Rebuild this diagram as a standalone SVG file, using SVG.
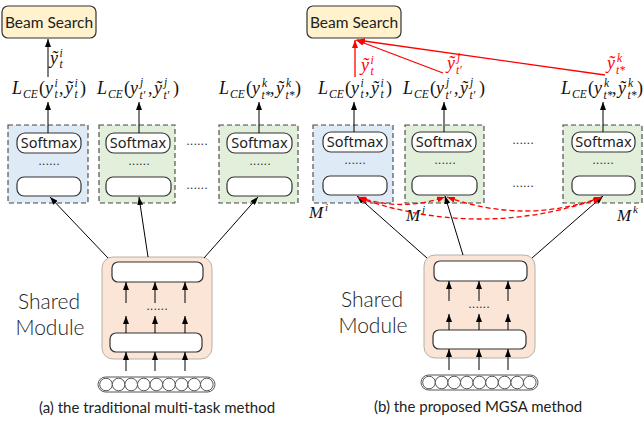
<svg xmlns="http://www.w3.org/2000/svg" width="644" height="421" viewBox="0 0 644 421">
<style>
.bs{fill:#fff2cc;stroke:#333;stroke-width:1.2}
.bst{font-family:Lato,"Liberation Sans",sans-serif;font-size:15.5px;fill:#222;text-anchor:middle}
.tb{stroke:#444;stroke-width:1.1;stroke-dasharray:5,3}
.blue{fill:#deebf7}
.green{fill:#e2efda}
.pill{fill:#fff;stroke:#333;stroke-width:1.2}
.sm{font-family:"Noto Sans","Liberation Sans",sans-serif;font-size:14.5px;fill:#222;text-anchor:middle}
.dots{font-family:"Liberation Sans",sans-serif;font-size:13px;fill:#333;text-anchor:middle}
.mod{fill:#fbe5d6;stroke:#b8b0a8;stroke-width:1}
.big{font-family:Lato,"Liberation Sans",sans-serif;font-weight:300;font-size:21px;fill:#222;text-anchor:middle}
.cap{font-family:Lato,"Liberation Sans",sans-serif;font-size:15px;fill:#222;text-anchor:middle}
.m{font-family:"Liberation Serif",serif;font-style:italic;font-size:18px;fill:#111}
.mu{font-family:"Liberation Serif",serif;font-size:18px;fill:#111}
.s{font-family:"Liberation Serif",serif;font-style:italic;font-size:11.5px;fill:#111}
.r{fill:#f00}
.ln{stroke:#000;stroke-width:1;fill:none}
.rl{stroke:#f00;stroke-width:1.3;fill:none}
.rd{stroke:#f00;stroke-width:1.3;fill:none;stroke-dasharray:5,3}
.ML{font-family:"Liberation Serif",serif;font-style:italic;font-size:17px;fill:#111}
.MS{font-family:"Liberation Serif",serif;font-style:italic;font-size:11px;fill:#111}
</style>
<defs>
<marker id="ah" viewBox="0 0 8 6" refX="8" refY="3" markerWidth="8" markerHeight="6" markerUnits="userSpaceOnUse" orient="auto"><path d="M0,0L8,3L0,6z" fill="#000"/></marker>
<marker id="rh" viewBox="0 0 8 6" refX="8" refY="3" markerWidth="8" markerHeight="6" markerUnits="userSpaceOnUse" orient="auto-start-reverse"><path d="M0,0L8,3L0,6z" fill="#f00"/></marker>
<g id="inp">
<rect x="0" y="0" width="117" height="15" rx="7.5" fill="#fff" stroke="#555" stroke-width="1"/>
<circle cx="8" cy="7.5" r="6.3" fill="#fff" stroke="#555"/>
<circle cx="20.6" cy="7.5" r="6.3" fill="#fff" stroke="#555"/>
<circle cx="33.2" cy="7.5" r="6.3" fill="#fff" stroke="#555"/>
<circle cx="45.8" cy="7.5" r="6.3" fill="#fff" stroke="#555"/>
<circle cx="58.4" cy="7.5" r="6.3" fill="#fff" stroke="#555"/>
<circle cx="71" cy="7.5" r="6.3" fill="#fff" stroke="#555"/>
<circle cx="83.6" cy="7.5" r="6.3" fill="#fff" stroke="#555"/>
<circle cx="96.2" cy="7.5" r="6.3" fill="#fff" stroke="#555"/>
<circle cx="108.8" cy="7.5" r="6.3" fill="#fff" stroke="#555"/>
</g>
</defs>
<rect width="644" height="421" fill="#fff"/>

<!-- Beam search nodes -->
<g id="beam-a"><rect class="bs" x="2" y="6" width="94" height="32" rx="6"/><text class="bst" x="49" y="28">Beam Search</text></g>
<g id="beam-b"><rect class="bs" x="307" y="6" width="94" height="32" rx="6"/><text class="bst" x="354" y="28">Beam Search</text></g>

<!-- Loss labels left -->
<g id="loss-a-i">
<text class="m" x="12" y="94">L</text><text class="s" x="23" y="98">CE</text><text class="mu" x="39" y="94">(</text><text class="m" x="45" y="94">y</text><text class="s" x="54.5" y="87">i</text><text class="s" x="54.5" y="98">t</text><text class="mu" x="59" y="94">,</text><text class="m" x="65" y="94">ỹ</text><text class="s" x="74.5" y="87">i</text><text class="s" x="74.5" y="98">t</text><text class="mu" x="80" y="94">)</text>
</g>
<g id="loss-a-j">
<text class="m" x="97" y="94">L</text><text class="s" x="108" y="98">CE</text><text class="mu" x="124" y="94">(</text><text class="m" x="130" y="94">y</text><text class="s" x="140" y="86">j</text><text class="s" x="139.5" y="99">t′</text><text class="mu" x="148" y="94">,</text><text class="m" x="154" y="94">ỹ</text><text class="s" x="164" y="86">j</text><text class="s" x="163.5" y="99">t′</text><text class="mu" x="173" y="94">)</text>
</g>
<g id="loss-a-k">
<text class="m" x="219" y="94">L</text><text class="s" x="230" y="98">CE</text><text class="mu" x="246" y="94">(</text><text class="m" x="252" y="94">y</text><text class="s" x="262" y="87">k</text><text class="s" x="261.5" y="99">t*</text><text class="mu" x="270" y="94">,</text><text class="m" x="276" y="94">ỹ</text><text class="s" x="286" y="87">k</text><text class="s" x="285.5" y="99">t*</text><text class="mu" x="295" y="94">)</text>
</g>
<g id="yt-a"><text class="m" x="50" y="64">ỹ</text><text class="s" x="59.5" y="57">i</text><text class="s" x="59.5" y="68">t</text></g>

<!-- Loss labels right -->
<g id="loss-b-i">
<text class="m" x="318" y="94">L</text><text class="s" x="329" y="98">CE</text><text class="mu" x="345" y="94">(</text><text class="m" x="351" y="94">y</text><text class="s" x="360.5" y="87">i</text><text class="s" x="360.5" y="98">t</text><text class="mu" x="365" y="94">,</text><text class="m" x="371" y="94">ỹ</text><text class="s" x="380.5" y="87">i</text><text class="s" x="380.5" y="98">t</text><text class="mu" x="386" y="94">)</text>
</g>
<g id="loss-b-j">
<text class="m" x="403" y="94">L</text><text class="s" x="414" y="98">CE</text><text class="mu" x="430" y="94">(</text><text class="m" x="436" y="94">y</text><text class="s" x="446" y="86">j</text><text class="s" x="445.5" y="99">t′</text><text class="mu" x="454" y="94">,</text><text class="m" x="460" y="94">ỹ</text><text class="s" x="470" y="86">j</text><text class="s" x="469.5" y="99">t′</text><text class="mu" x="479" y="94">)</text>
</g>
<g id="loss-b-k">
<text class="m" x="561" y="94">L</text><text class="s" x="572" y="98">CE</text><text class="mu" x="588" y="94">(</text><text class="m" x="594" y="94">y</text><text class="s" x="604" y="87">k</text><text class="s" x="603.5" y="99">t*</text><text class="mu" x="612" y="94">,</text><text class="m" x="618" y="94">ỹ</text><text class="s" x="628" y="87">k</text><text class="s" x="627.5" y="99">t*</text><text class="mu" x="637" y="94">)</text>
</g>
<g id="yt-b-i"><text class="m r" x="361" y="71">ỹ</text><text class="s r" x="370.5" y="64">i</text><text class="s r" x="370.5" y="75">t</text></g>
<g id="yt-b-j"><text class="m r" x="447" y="69">ỹ</text><text class="s r" x="457" y="61">j</text><text class="s r" x="456" y="74">t′</text></g>
<g id="yt-b-k"><text class="m r" x="607" y="69">ỹ</text><text class="s r" x="617" y="62">k</text><text class="s r" x="616" y="74">t*</text></g>

<!-- Task modules left -->
<g id="task-a-i"><rect class="tb blue" x="8" y="125" width="80" height="78"/><rect class="pill" x="17" y="133" width="64" height="20" rx="8"/><text class="sm" x="49" y="148">Softmax</text><text class="dots" x="49" y="165">......</text><rect class="pill" x="17" y="177" width="64" height="19" rx="7"/></g>
<g id="task-a-j"><rect class="tb green" x="99" y="125" width="76" height="78"/><rect class="pill" x="106" y="133" width="64" height="20" rx="8"/><text class="sm" x="138" y="148">Softmax</text><text class="dots" x="139" y="165">......</text><rect class="pill" x="106" y="177" width="65" height="19" rx="7"/></g>
<g id="task-a-k"><rect class="tb green" x="219" y="125" width="79" height="78"/><rect class="pill" x="227" y="133" width="65" height="20" rx="8"/><text class="sm" x="259.5" y="148">Softmax</text><text class="dots" x="260" y="165">......</text><rect class="pill" x="227" y="177" width="65" height="19" rx="7"/></g>
<text class="dots" x="197" y="145">......</text>
<text class="dots" x="197" y="189">......</text>

<!-- Task modules right -->
<g id="task-b-i"><rect class="tb blue" x="313" y="125" width="80" height="78"/><rect class="pill" x="323" y="132" width="64" height="20" rx="8"/><text class="sm" x="355" y="147">Softmax</text><text class="dots" x="355" y="164">......</text><rect class="pill" x="323" y="176" width="64" height="19" rx="7"/></g>
<g id="task-b-j"><rect class="tb green" x="405" y="125" width="79" height="78"/><rect class="pill" x="412" y="132" width="64" height="20" rx="8"/><text class="sm" x="444" y="147">Softmax</text><text class="dots" x="445" y="164">......</text><rect class="pill" x="412" y="176" width="65" height="19" rx="7"/></g>
<g id="task-b-k"><rect class="tb green" x="563" y="125" width="79" height="78"/><rect class="pill" x="572" y="132" width="63" height="20" rx="8"/><text class="sm" x="603.5" y="147">Softmax</text><text class="dots" x="603" y="164">......</text><rect class="pill" x="572" y="176" width="63" height="19" rx="7"/></g>
<text class="dots" x="523" y="144">......</text>
<text class="dots" x="523" y="187">......</text>
<text class="ML" x="309" y="218">M</text><text class="MS" x="325" y="211">i</text>
<text class="ML" x="406" y="221">M</text><text class="MS" x="422" y="213">j</text>
<text class="ML" x="617" y="221">M</text><text class="MS" x="633" y="213">k</text>

<!-- Shared modules -->
<g id="shared-a">
<rect class="mod" x="102" y="257" width="110" height="102" rx="11"/>
<rect class="pill" x="112" y="262" width="91" height="20" rx="6"/>
<rect class="pill" x="110" y="333" width="92" height="19" rx="6"/>
<text class="dots" x="157" y="310" font-size="10">......</text>
<text class="big" x="49" y="309">Shared</text>
<text class="big" x="50" y="335">Module</text>
</g>
<g id="input-a"><use href="#inp" x="98" y="377"/></g>
<g id="shared-b">
<rect class="mod" x="424" y="255" width="111" height="103" rx="11"/>
<rect class="pill" x="434" y="261" width="93" height="20" rx="6"/>
<rect class="pill" x="433" y="330" width="93" height="19" rx="6"/>
<text class="dots" x="479" y="308" font-size="10">......</text>
<text class="big" x="372" y="307">Shared</text>
<text class="big" x="373" y="333">Module</text>
</g>
<g id="input-b"><use href="#inp" x="421" y="375"/></g>

<text class="cap" x="157" y="413">(a) the traditional multi-task method</text>
<text class="cap" x="478" y="412">(b) the proposed MGSA method</text>

<!-- Connectors -->
<g id="connectors">
<line class="ln" x1="48" y1="77" x2="48" y2="39" marker-end="url(#ah)"/>
<line class="ln" x1="48" y1="133" x2="48" y2="102" marker-end="url(#ah)"/>
<line class="ln" x1="139" y1="133" x2="139" y2="102" marker-end="url(#ah)"/>
<line class="ln" x1="259" y1="133" x2="259" y2="102" marker-end="url(#ah)"/>
<line class="ln" x1="354" y1="132" x2="354" y2="102" marker-end="url(#ah)"/>
<line class="ln" x1="444" y1="132" x2="444" y2="102" marker-end="url(#ah)"/>
<line class="ln" x1="603" y1="132" x2="603" y2="102" marker-end="url(#ah)"/>
<line class="ln" x1="108" y1="258" x2="50" y2="197" marker-end="url(#ah)"/>
<line class="ln" x1="148" y1="257" x2="139" y2="197" marker-end="url(#ah)"/>
<line class="ln" x1="204" y1="258" x2="258" y2="197" marker-end="url(#ah)"/>
<line class="ln" x1="427" y1="258" x2="357" y2="196" marker-end="url(#ah)"/>
<line class="ln" x1="463" y1="255" x2="445" y2="196" marker-end="url(#ah)"/>
<line class="ln" x1="532" y1="258" x2="603" y2="196" marker-end="url(#ah)"/>
<line class="ln" x1="126" y1="371" x2="126" y2="352" marker-end="url(#ah)"/>
<line class="ln" x1="155" y1="371" x2="155" y2="352" marker-end="url(#ah)"/>
<line class="ln" x1="185" y1="371" x2="185" y2="352" marker-end="url(#ah)"/>
<line class="ln" x1="126" y1="333" x2="126" y2="316" marker-end="url(#ah)"/>
<line class="ln" x1="155" y1="333" x2="155" y2="316" marker-end="url(#ah)"/>
<line class="ln" x1="185" y1="333" x2="185" y2="316" marker-end="url(#ah)"/>
<line class="ln" x1="126" y1="303" x2="126" y2="282" marker-end="url(#ah)"/>
<line class="ln" x1="155" y1="303" x2="155" y2="282" marker-end="url(#ah)"/>
<line class="ln" x1="185" y1="303" x2="185" y2="282" marker-end="url(#ah)"/>
<line class="ln" x1="449" y1="370" x2="449" y2="349" marker-end="url(#ah)"/>
<line class="ln" x1="479" y1="370" x2="479" y2="349" marker-end="url(#ah)"/>
<line class="ln" x1="508" y1="370" x2="508" y2="349" marker-end="url(#ah)"/>
<line class="ln" x1="449" y1="330" x2="449" y2="314" marker-end="url(#ah)"/>
<line class="ln" x1="479" y1="330" x2="479" y2="314" marker-end="url(#ah)"/>
<line class="ln" x1="508" y1="330" x2="508" y2="314" marker-end="url(#ah)"/>
<line class="ln" x1="449" y1="301" x2="449" y2="281" marker-end="url(#ah)"/>
<line class="ln" x1="479" y1="301" x2="479" y2="281" marker-end="url(#ah)"/>
<line class="ln" x1="508" y1="301" x2="508" y2="281" marker-end="url(#ah)"/>
<line class="rl" x1="355" y1="77" x2="355" y2="40" marker-end="url(#rh)"/>
<line class="rl" x1="443" y1="73" x2="356" y2="40" marker-end="url(#rh)"/>
<line class="rl" x1="605" y1="75" x2="357" y2="40" marker-end="url(#rh)"/>
<path class="rd" d="M358,197 Q401,212 445,197" marker-start="url(#rh)" marker-end="url(#rh)"/>
<path class="rd" d="M447,197 Q525,225 602,197" marker-start="url(#rh)" marker-end="url(#rh)"/>
<path class="rd" d="M359,198 Q480,240 601,198" marker-start="url(#rh)" marker-end="url(#rh)"/>
</g>
</svg>
